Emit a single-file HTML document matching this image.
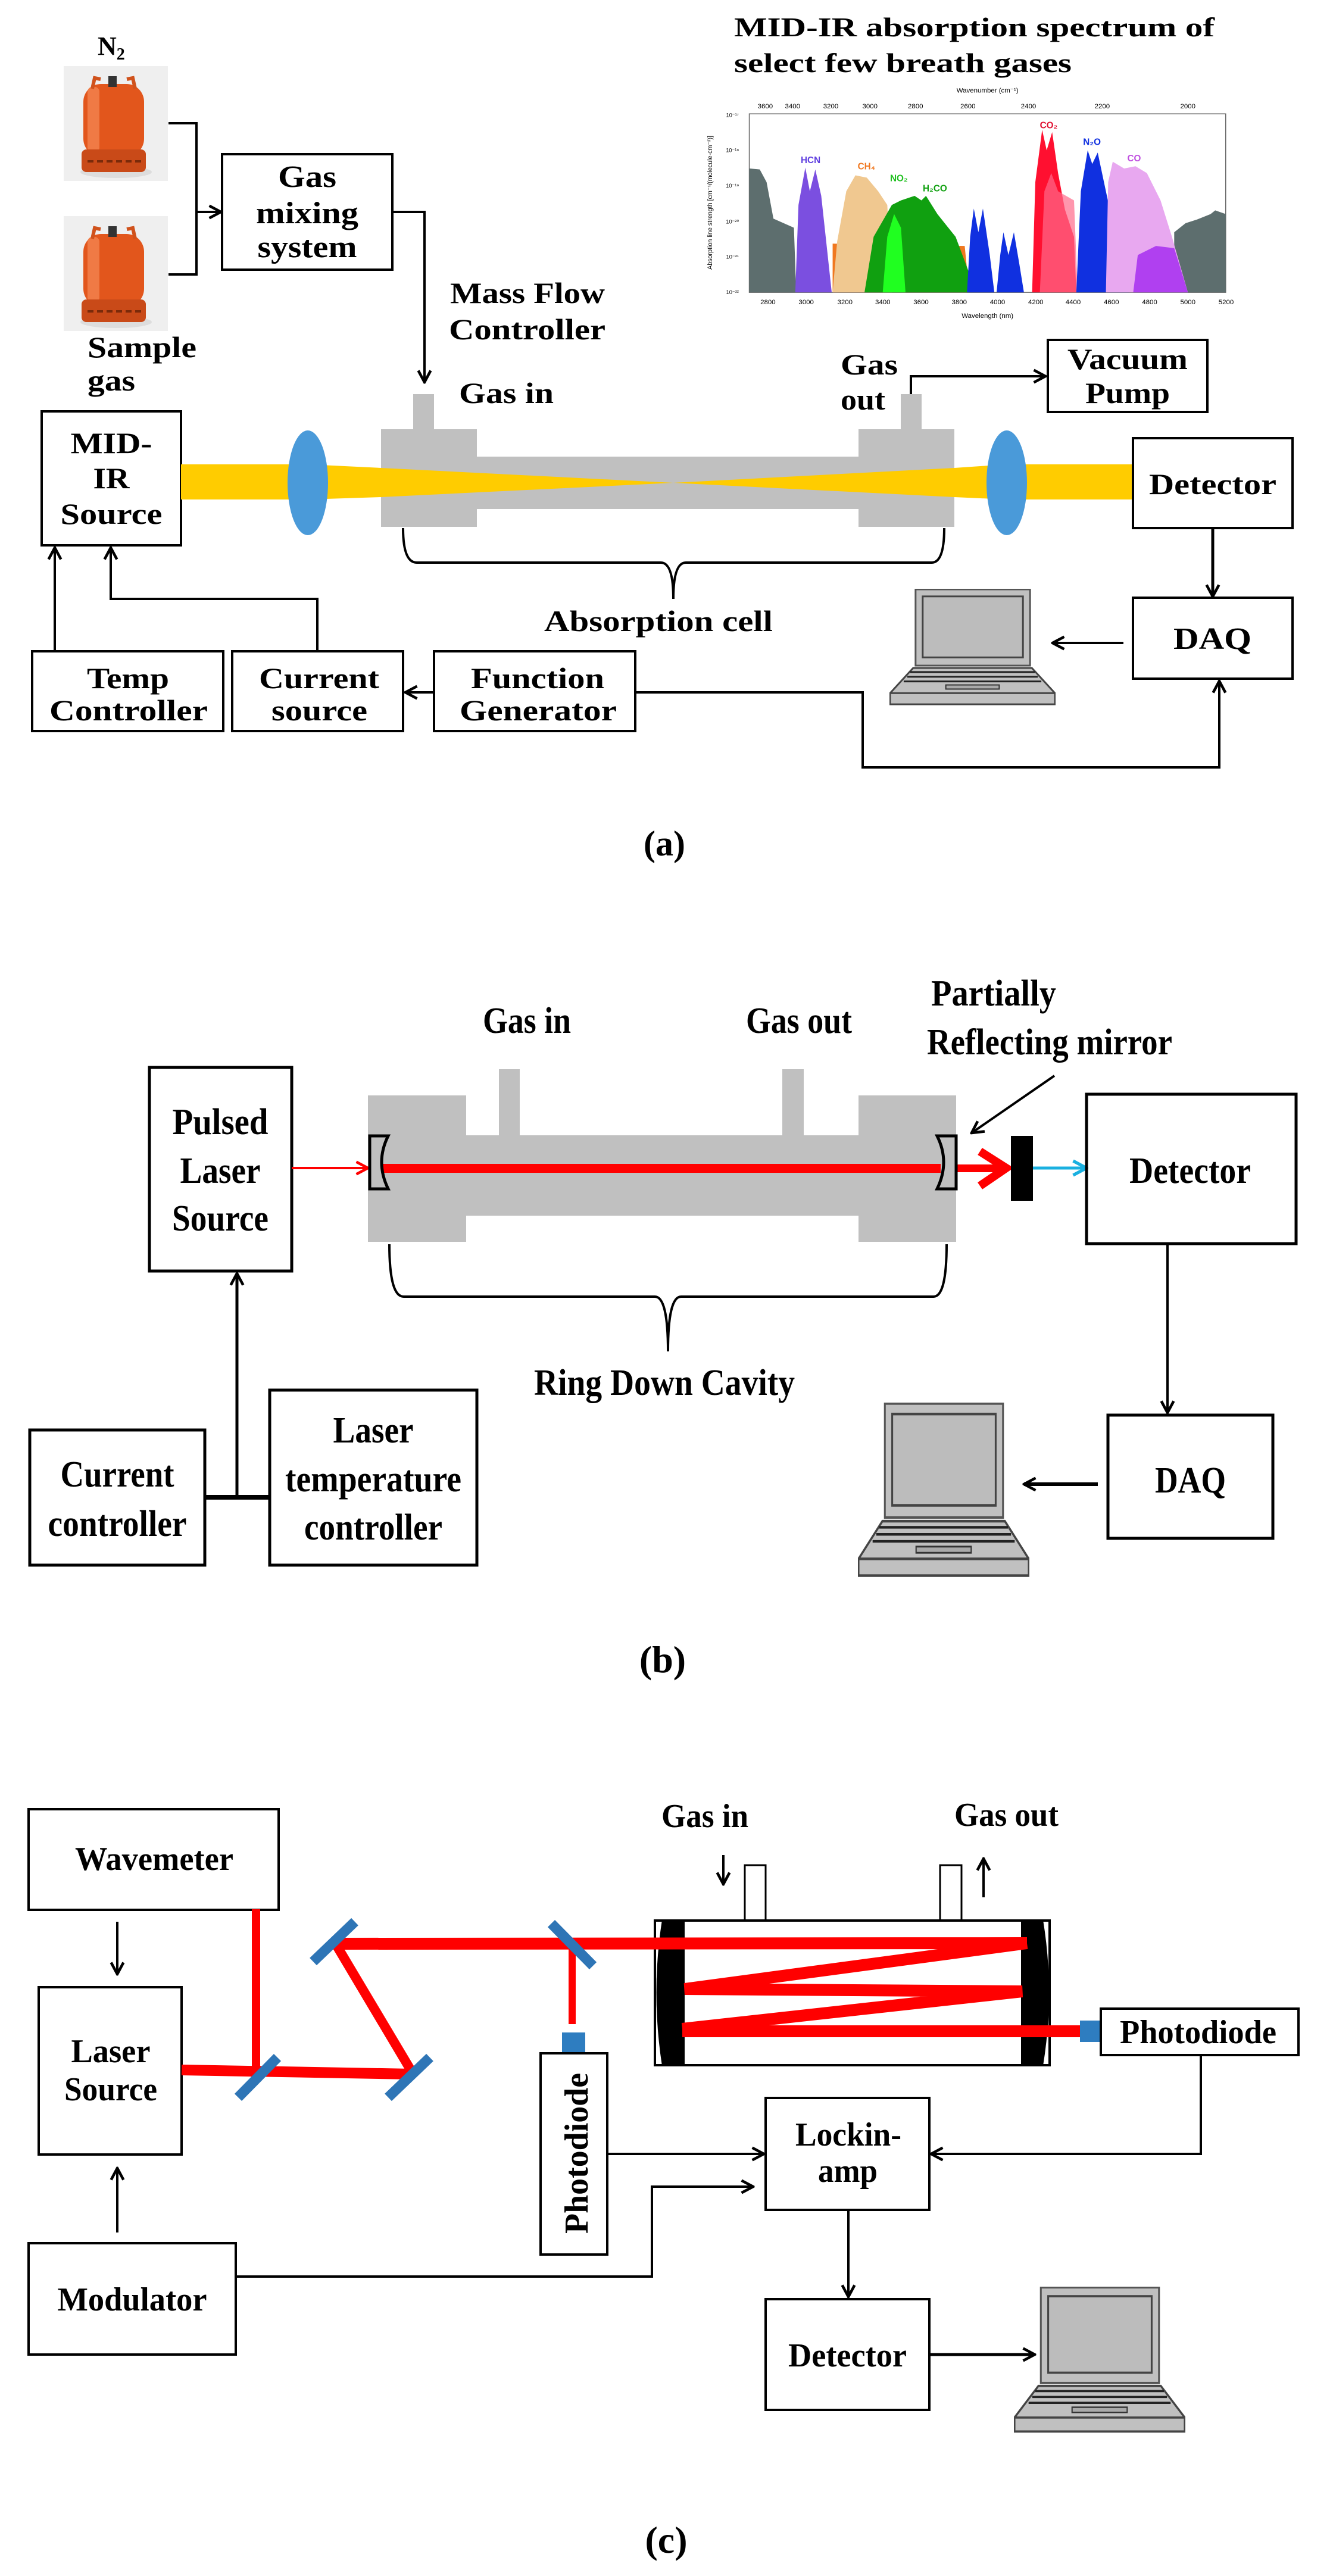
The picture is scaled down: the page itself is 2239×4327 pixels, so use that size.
<!DOCTYPE html>
<html><head><meta charset="utf-8"><style>
html,body{margin:0;padding:0;background:#fff}
svg{display:block}
text{font-family:"Liberation Serif",serif;font-weight:bold;fill:#000}
</style></head><body>
<svg width="2239" height="4327" viewBox="0 0 2239 4327" xmlns="http://www.w3.org/2000/svg">
<defs>
<marker id="ar" viewBox="0 0 20 20" refX="18" refY="10" markerWidth="26" markerHeight="26" markerUnits="userSpaceOnUse" orient="auto">
<path d="M3,2 L18,10 L3,18" fill="none" stroke="#000" stroke-width="3.5"/></marker>
<marker id="arr" viewBox="0 0 20 20" refX="18" refY="10" markerWidth="26" markerHeight="26" markerUnits="userSpaceOnUse" orient="auto">
<path d="M3,2 L18,10 L3,18" fill="none" stroke="#f00" stroke-width="3.5"/></marker>
<marker id="arc" viewBox="0 0 20 20" refX="18" refY="10" markerWidth="30" markerHeight="30" markerUnits="userSpaceOnUse" orient="auto">
<path d="M3,2 L18,10 L3,18" fill="none" stroke="#1ab0e0" stroke-width="3.5"/></marker>
<symbol id="lap" viewBox="0 0 280 200" preserveAspectRatio="none">
<rect x="44" y="1" width="193" height="130" fill="#c0c0c0" stroke="#555" stroke-width="3"/>
<rect x="56" y="13" width="169" height="104" fill="#bcbcbc" stroke="#444" stroke-width="3"/>
<path d="M40,135 L240,135 L279,178 L1,178 Z" fill="#c0c0c0" stroke="#444" stroke-width="3"/>
<path d="M35,142 H245 M30,150 H250 M24,158 H256" stroke="#222" stroke-width="3"/>
<rect x="95" y="164" width="90" height="7" fill="#aaa" stroke="#333" stroke-width="2"/>
<rect x="1" y="178" width="278" height="19" fill="#c0c0c0" stroke="#444" stroke-width="3"/>
</symbol>
<symbol id="cyl" viewBox="0 0 175 193" preserveAspectRatio="none">
<rect x="0" y="0" width="175" height="193" fill="#efefef"/>
<ellipse cx="88" cy="178" rx="60" ry="10" fill="#ddd"/>
<rect x="33" y="30" width="102" height="122" rx="30" fill="#e2561c"/>
<rect x="40" y="35" width="20" height="110" rx="8" fill="#f07a45"/>
<rect x="30" y="140" width="108" height="38" rx="8" fill="#c94a18"/>
<rect x="75" y="17" width="14" height="18" fill="#333"/>
<path d="M48,38 L52,20 L62,22 M120,38 L116,20 L106,22" fill="none" stroke="#d0521c" stroke-width="6"/>
<path d="M40,160 H130" stroke="#7a2a0a" stroke-width="4" stroke-dasharray="10 6"/>
</symbol>
</defs>

<!-- ================= PANEL A ================= -->
<text x="164" y="92" font-size="44">N<tspan font-size="28" dy="8">2</tspan></text>
<use href="#cyl" x="107" y="111" width="175" height="193"/>
<use href="#cyl" x="107" y="363" width="175" height="193"/>
<path d="M283,207 H330 V461 H283" fill="none" stroke="#000" stroke-width="4"/>
<path d="M330,356 H371" fill="none" stroke="#000" stroke-width="4" marker-end="url(#ar)"/>
<rect x="373" y="259" width="286" height="194" fill="none" stroke="#000" stroke-width="4"/>
<text x="516" y="314" font-size="52" text-anchor="middle" textLength="98" lengthAdjust="spacingAndGlyphs">Gas</text>
<text x="516" y="375" font-size="52" text-anchor="middle" textLength="172" lengthAdjust="spacingAndGlyphs">mixing</text>
<text x="516" y="432" font-size="52" text-anchor="middle" textLength="167" lengthAdjust="spacingAndGlyphs">system</text>
<path d="M659,356 H713 V642" fill="none" stroke="#000" stroke-width="4" marker-end="url(#ar)"/>
<text x="756" y="509" font-size="50" textLength="260" lengthAdjust="spacingAndGlyphs">Mass Flow</text>
<text x="754" y="570" font-size="50" textLength="263" lengthAdjust="spacingAndGlyphs">Controller</text>
<text x="147" y="600" font-size="50" textLength="183" lengthAdjust="spacingAndGlyphs">Sample</text>
<text x="147" y="656" font-size="50" textLength="80" lengthAdjust="spacingAndGlyphs">gas</text>
<text x="771" y="677" font-size="50" textLength="159" lengthAdjust="spacingAndGlyphs">Gas in</text>

<!-- title & spectrum -->
<text x="1233" y="61" font-size="46" textLength="807" lengthAdjust="spacingAndGlyphs">MID-IR absorption spectrum of</text>
<text x="1233" y="121" font-size="46" textLength="567" lengthAdjust="spacingAndGlyphs">select few breath gases</text>
<g transform="translate(1039,0) scale(0.765)">
<rect x="287" y="250" width="1046" height="392" fill="#fff" stroke="#666" stroke-width="2"/>
<path d="M287,642 L287,370 L310,372 L325,400 L340,480 L385,500 L390,642 Z" fill="#5d6e6e"/>
<path d="M1220,642 L1220,510 L1245,490 L1270,482 L1300,470 L1310,462 L1333,470 L1333,642 Z" fill="#5d6e6e"/>
<path d="M470,642 L470,535 L760,540 L770,642 Z" fill="#f07820"/>
<path d="M470,642 L480,530 L500,420 L520,385 L545,390 L570,420 L590,450 L600,642 Z" fill="#f0c890"/>
<path d="M388,642 L395,450 L410,368 L420,420 L432,372 L445,430 L468,642 Z" fill="#7b4fe0"/>
<path d="M540,642 L560,520 L600,450 L620,440 L650,430 L665,440 L675,430 L700,470 L740,520 L770,600 L770,642 Z" fill="#10a010"/>
<path d="M580,642 L590,520 L605,470 L620,500 L630,642 Z" fill="#20ff20"/>
<path d="M765,642 L772,520 L780,458 L790,510 L800,458 L815,560 L825,642 Z M830,642 L838,560 L845,510 L856,560 L868,510 L880,580 L890,642 Z" fill="#1030e0"/>
<path d="M908,642 L915,400 L930,285 L940,330 L952,290 L965,380 L980,460 L1000,520 L1005,642 Z" fill="#ff1030"/>
<path d="M925,642 L935,420 L950,380 L965,420 L1000,440 L1008,642 Z" fill="#ff6a8a" opacity="0.7"/>
<path d="M1005,642 L1015,420 L1030,330 L1040,360 L1052,335 L1070,420 L1100,560 L1120,642 Z" fill="#1030e0"/>
<path d="M1070,642 L1075,400 L1085,355 L1110,370 L1135,365 L1160,380 L1190,440 L1215,520 L1250,642 Z" fill="#e8a8f0"/>
<path d="M1130,642 L1140,560 L1180,540 L1220,545 L1250,642 Z" fill="#b040f0"/>
<g font-family="Liberation Sans,sans-serif" font-weight="bold" font-size="20">
<text x="400" y="358" style="fill:#6040e0;font-family:'Liberation Sans',sans-serif">HCN</text>
<text x="525" y="372" style="fill:#f07820;font-family:'Liberation Sans',sans-serif">CH₄</text>
<text x="596" y="398" style="fill:#20c020;font-family:'Liberation Sans',sans-serif">NO₂</text>
<text x="668" y="420" style="fill:#10a010;font-family:'Liberation Sans',sans-serif">H₂CO</text>
<text x="925" y="282" style="fill:#e01030;font-family:'Liberation Sans',sans-serif">CO₂</text>
<text x="1020" y="318" style="fill:#1030e0;font-family:'Liberation Sans',sans-serif">N₂O</text>
<text x="1117" y="354" style="fill:#c050e0;font-family:'Liberation Sans',sans-serif">CO</text>
</g>
<g style="font-family:'Liberation Sans',sans-serif;font-weight:normal" font-size="15" text-anchor="middle">
<text x="328" y="668" style="font-weight:normal;font-family:'Liberation Sans',sans-serif">2800</text><text x="412" y="668" style="font-weight:normal;font-family:'Liberation Sans',sans-serif">3000</text><text x="497" y="668" style="font-weight:normal;font-family:'Liberation Sans',sans-serif">3200</text><text x="580" y="668" style="font-weight:normal;font-family:'Liberation Sans',sans-serif">3400</text><text x="664" y="668" style="font-weight:normal;font-family:'Liberation Sans',sans-serif">3600</text><text x="748" y="668" style="font-weight:normal;font-family:'Liberation Sans',sans-serif">3800</text><text x="832" y="668" style="font-weight:normal;font-family:'Liberation Sans',sans-serif">4000</text><text x="916" y="668" style="font-weight:normal;font-family:'Liberation Sans',sans-serif">4200</text><text x="998" y="668" style="font-weight:normal;font-family:'Liberation Sans',sans-serif">4400</text><text x="1082" y="668" style="font-weight:normal;font-family:'Liberation Sans',sans-serif">4600</text><text x="1166" y="668" style="font-weight:normal;font-family:'Liberation Sans',sans-serif">4800</text><text x="1250" y="668" style="font-weight:normal;font-family:'Liberation Sans',sans-serif">5000</text><text x="1334" y="668" style="font-weight:normal;font-family:'Liberation Sans',sans-serif">5200</text>
<text x="322" y="238" style="font-weight:normal;font-family:'Liberation Sans',sans-serif">3600</text><text x="382" y="238" style="font-weight:normal;font-family:'Liberation Sans',sans-serif">3400</text><text x="466" y="238" style="font-weight:normal;font-family:'Liberation Sans',sans-serif">3200</text><text x="552" y="238" style="font-weight:normal;font-family:'Liberation Sans',sans-serif">3000</text><text x="652" y="238" style="font-weight:normal;font-family:'Liberation Sans',sans-serif">2800</text><text x="767" y="238" style="font-weight:normal;font-family:'Liberation Sans',sans-serif">2600</text><text x="900" y="238" style="font-weight:normal;font-family:'Liberation Sans',sans-serif">2400</text><text x="1062" y="238" style="font-weight:normal;font-family:'Liberation Sans',sans-serif">2200</text><text x="1250" y="238" style="font-weight:normal;font-family:'Liberation Sans',sans-serif">2000</text>
<text x="810" y="203" style="font-weight:normal;font-family:'Liberation Sans',sans-serif">Wavenumber (cm⁻¹)</text>
<text x="810" y="698" style="font-weight:normal;font-family:'Liberation Sans',sans-serif">Wavelength (nm)</text>
<text x="250" y="257" style="font-weight:normal;font-family:'Liberation Sans',sans-serif" font-size="12">10⁻¹⁷</text><text x="250" y="334" style="font-weight:normal;font-family:'Liberation Sans',sans-serif" font-size="12">10⁻¹⁸</text><text x="250" y="412" style="font-weight:normal;font-family:'Liberation Sans',sans-serif" font-size="12">10⁻¹⁹</text><text x="250" y="491" style="font-weight:normal;font-family:'Liberation Sans',sans-serif" font-size="12">10⁻²⁰</text><text x="250" y="568" style="font-weight:normal;font-family:'Liberation Sans',sans-serif" font-size="12">10⁻²¹</text><text x="250" y="646" style="font-weight:normal;font-family:'Liberation Sans',sans-serif" font-size="12">10⁻²²</text>
<text transform="translate(205,445) rotate(-90)" style="font-weight:normal;font-family:'Liberation Sans',sans-serif" font-size="14">Absorption line strength [cm⁻¹/(molecule·cm⁻²)]</text>
</g>
</g>

<!-- cell a -->
<text x="1412" y="629" font-size="50" textLength="96" lengthAdjust="spacingAndGlyphs">Gas</text>
<text x="1412" y="688" font-size="50" textLength="75" lengthAdjust="spacingAndGlyphs">out</text>
<path d="M1530,662 V632 H1756" fill="none" stroke="#000" stroke-width="4" marker-end="url(#ar)"/>
<rect x="1760" y="571" width="268" height="121" fill="none" stroke="#000" stroke-width="4"/>
<text x="1793" y="620" font-size="50" textLength="202" lengthAdjust="spacingAndGlyphs">Vacuum</text>
<text x="1823" y="677" font-size="50" textLength="142" lengthAdjust="spacingAndGlyphs">Pump</text>
<rect x="70" y="691" width="234" height="225" fill="none" stroke="#000" stroke-width="4"/>
<text x="187" y="761" font-size="50" text-anchor="middle" textLength="137" lengthAdjust="spacingAndGlyphs">MID-</text>
<text x="187" y="820" font-size="50" text-anchor="middle" textLength="61" lengthAdjust="spacingAndGlyphs">IR</text>
<text x="187" y="880" font-size="50" text-anchor="middle" textLength="171" lengthAdjust="spacingAndGlyphs">Source</text>
<g fill="#c0c0c0">
<rect x="640" y="721" width="161" height="164"/><rect x="694" y="662" width="35" height="60"/>
<rect x="800" y="767" width="643" height="88"/>
<rect x="1442" y="721" width="161" height="164"/><rect x="1513" y="662" width="35" height="60"/>
</g>
<g fill="#ffcc00">
<rect x="304" y="780" width="215" height="59"/>
<polygon points="517,780 640,786 1131,811 640,835 517,839"/>
<polygon points="1131,811 1603,786 1691,780 1691,839 1603,835"/>
<rect x="1689" y="780" width="214" height="59"/>
</g>
<ellipse cx="517" cy="811" rx="34" ry="88" fill="#4a9ad9"/>
<ellipse cx="1691" cy="811" rx="34" ry="88" fill="#4a9ad9"/>
<rect x="1903" y="736" width="268" height="151" fill="#fff" stroke="#000" stroke-width="4"/>
<text x="1930" y="830" font-size="50" textLength="214" lengthAdjust="spacingAndGlyphs">Detector</text>
<path d="M2037,887 V1002" fill="none" stroke="#000" stroke-width="5" marker-end="url(#ar)"/>
<rect x="1903" y="1004" width="268" height="136" fill="none" stroke="#000" stroke-width="4"/>
<text x="1971" y="1090" font-size="52" textLength="131" lengthAdjust="spacingAndGlyphs">DAQ</text>
<use href="#lap" x="1494" y="989" width="279" height="197"/>
<path d="M1887,1080 H1768" fill="none" stroke="#000" stroke-width="4" marker-end="url(#ar)"/>
<path d="M677,887 Q677,945 700,945 L1110,945 Q1131,945 1131,1006 Q1131,945 1152,945 L1565,945 Q1586,945 1586,887" fill="none" stroke="#000" stroke-width="4"/>
<text x="914" y="1060" font-size="50" textLength="384" lengthAdjust="spacingAndGlyphs">Absorption cell</text>
<rect x="54" y="1094" width="321" height="134" fill="none" stroke="#000" stroke-width="4"/>
<rect x="390" y="1094" width="287" height="134" fill="none" stroke="#000" stroke-width="4"/>
<rect x="729" y="1094" width="338" height="134" fill="none" stroke="#000" stroke-width="4"/>
<text x="146" y="1156" font-size="50" textLength="138" lengthAdjust="spacingAndGlyphs">Temp</text>
<text x="83" y="1210" font-size="50" textLength="266" lengthAdjust="spacingAndGlyphs">Controller</text>
<text x="435" y="1156" font-size="50" textLength="202" lengthAdjust="spacingAndGlyphs">Current</text>
<text x="456" y="1210" font-size="50" textLength="161" lengthAdjust="spacingAndGlyphs">source</text>
<text x="791" y="1156" font-size="50" textLength="224" lengthAdjust="spacingAndGlyphs">Function</text>
<text x="772" y="1210" font-size="50" textLength="264" lengthAdjust="spacingAndGlyphs">Generator</text>
<path d="M92,1094 V920" fill="none" stroke="#000" stroke-width="4" marker-end="url(#ar)"/>
<path d="M533,1094 V1006 H186 V920" fill="none" stroke="#000" stroke-width="4" marker-end="url(#ar)"/>
<path d="M729,1163 H681" fill="none" stroke="#000" stroke-width="4" marker-end="url(#ar)"/>
<path d="M1067,1163 H1449 V1289 H2048 V1144" fill="none" stroke="#000" stroke-width="4" marker-end="url(#ar)"/>
<text x="1116" y="1437" font-size="60" text-anchor="middle">(a)</text>

<!-- ================= PANEL B ================= -->
<text x="811" y="1735" font-size="62" textLength="148" lengthAdjust="spacingAndGlyphs">Gas in</text>
<text x="1253" y="1735" font-size="62" textLength="178" lengthAdjust="spacingAndGlyphs">Gas out</text>
<text x="1564" y="1689" font-size="62" textLength="210" lengthAdjust="spacingAndGlyphs">Partially</text>
<text x="1557" y="1771" font-size="62" textLength="412" lengthAdjust="spacingAndGlyphs">Reflecting mirror</text>
<rect x="251" y="1793" width="239" height="342" fill="none" stroke="#000" stroke-width="5"/>
<text x="370" y="1905" font-size="62" text-anchor="middle" textLength="161" lengthAdjust="spacingAndGlyphs">Pulsed</text>
<text x="370" y="1987" font-size="62" text-anchor="middle" textLength="135" lengthAdjust="spacingAndGlyphs">Laser</text>
<text x="370" y="2067" font-size="62" text-anchor="middle" textLength="162" lengthAdjust="spacingAndGlyphs">Source</text>
<g fill="#c0c0c0">
<rect x="618" y="1840" width="165" height="246"/><rect x="838" y="1796" width="35" height="112"/>
<rect x="782" y="1907" width="662" height="135"/>
<rect x="1442" y="1840" width="164" height="246"/><rect x="1314" y="1796" width="36" height="112"/>
</g>
<path d="M490,1962 H618" fill="none" stroke="#f00" stroke-width="4" marker-end="url(#arr)"/>
<rect x="640" y="1955" width="940" height="15" fill="#f00"/>
<rect x="1600" y="1956" width="80" height="13" fill="#f00"/>
<path d="M1646,1934 L1690,1962 L1646,1992" fill="none" stroke="#f00" stroke-width="14"/>
<path d="M621,1908 L652,1908 Q630,1952 652,1997 L621,1997 Z" fill="#c0c0c0" stroke="#000" stroke-width="5"/>
<path d="M1606,1908 L1574,1908 Q1596,1952 1574,1997 L1606,1997 Z" fill="#c0c0c0" stroke="#000" stroke-width="5"/>
<rect x="1698" y="1908" width="37" height="109" fill="#000"/>
<path d="M1735,1962 H1825" fill="none" stroke="#1ab0e0" stroke-width="5" marker-end="url(#arc)"/>
<path d="M1771,1807 L1632,1903" fill="none" stroke="#000" stroke-width="4" marker-end="url(#ar)"/>
<rect x="1825" y="1838" width="352" height="251" fill="none" stroke="#000" stroke-width="5"/>
<text x="1897" y="1987" font-size="62" textLength="204" lengthAdjust="spacingAndGlyphs">Detector</text>
<path d="M1961,2089 V2373" fill="none" stroke="#000" stroke-width="4" marker-end="url(#ar)"/>
<rect x="1861" y="2377" width="277" height="207" fill="none" stroke="#000" stroke-width="5"/>
<text x="1940" y="2507" font-size="62" textLength="119" lengthAdjust="spacingAndGlyphs">DAQ</text>
<use href="#lap" x="1441" y="2356" width="288" height="295"/>
<path d="M1844,2493 H1720" fill="none" stroke="#000" stroke-width="6" marker-end="url(#ar)"/>
<path d="M654,2090 Q654,2178 678,2178 L1100,2178 Q1122,2178 1122,2270 Q1122,2178 1144,2178 L1568,2178 Q1590,2178 1590,2090" fill="none" stroke="#000" stroke-width="4"/>
<text x="897" y="2343" font-size="62" textLength="438" lengthAdjust="spacingAndGlyphs">Ring Down Cavity</text>
<rect x="50" y="2402" width="294" height="227" fill="none" stroke="#000" stroke-width="5"/>
<rect x="453" y="2335" width="348" height="294" fill="none" stroke="#000" stroke-width="5"/>
<text x="197" y="2497" font-size="62" text-anchor="middle" textLength="191" lengthAdjust="spacingAndGlyphs">Current</text>
<text x="197" y="2580" font-size="62" text-anchor="middle" textLength="233" lengthAdjust="spacingAndGlyphs">controller</text>
<text x="627" y="2423" font-size="62" text-anchor="middle" textLength="135" lengthAdjust="spacingAndGlyphs">Laser</text>
<text x="627" y="2505" font-size="62" text-anchor="middle" textLength="296" lengthAdjust="spacingAndGlyphs">temperature</text>
<text x="627" y="2586" font-size="62" text-anchor="middle" textLength="232" lengthAdjust="spacingAndGlyphs">controller</text>
<path d="M344,2515 H453" stroke="#000" stroke-width="8"/>
<path d="M398,2515 V2139" fill="none" stroke="#000" stroke-width="5" marker-end="url(#ar)"/>
<text x="1113" y="2809" font-size="64" text-anchor="middle">(b)</text>

<!-- ================= PANEL C ================= -->
<rect x="48" y="3039" width="420" height="169" fill="none" stroke="#000" stroke-width="4"/>
<text x="259" y="3141" font-size="56" text-anchor="middle" textLength="266" lengthAdjust="spacingAndGlyphs">Wavemeter</text>
<path d="M197,3228 V3316" fill="none" stroke="#000" stroke-width="4" marker-end="url(#ar)"/>
<rect x="65" y="3338" width="240" height="281" fill="none" stroke="#000" stroke-width="4"/>
<text x="186" y="3464" font-size="56" text-anchor="middle" textLength="133" lengthAdjust="spacingAndGlyphs">Laser</text>
<text x="186" y="3528" font-size="56" text-anchor="middle" textLength="156" lengthAdjust="spacingAndGlyphs">Source</text>
<path d="M197,3750 V3642" fill="none" stroke="#000" stroke-width="4" marker-end="url(#ar)"/>
<rect x="48" y="3768" width="348" height="187" fill="none" stroke="#000" stroke-width="4"/>
<text x="222" y="3881" font-size="56" text-anchor="middle" textLength="251" lengthAdjust="spacingAndGlyphs">Modulator</text>
<path d="M396,3824 H1095 V3673 H1265" fill="none" stroke="#000" stroke-width="4" marker-end="url(#ar)"/>
<!-- cell -->
<rect x="1251" y="3133" width="35" height="94" fill="#fff" stroke="#000" stroke-width="3"/>
<rect x="1579" y="3133" width="36" height="94" fill="#fff" stroke="#000" stroke-width="3"/>
<rect x="1100" y="3226" width="663" height="243" fill="#fff" stroke="#000" stroke-width="4"/>
<path d="M1150,3225 L1112,3225 Q1093,3347 1112,3470 L1150,3470 Z" fill="#000"/>
<path d="M1715,3225 L1752,3225 Q1772,3347 1752,3470 L1715,3470 Z" fill="#000"/>
<text x="1111" y="3069" font-size="56" textLength="146" lengthAdjust="spacingAndGlyphs">Gas in</text>
<text x="1603" y="3067" font-size="56" textLength="175" lengthAdjust="spacingAndGlyphs">Gas out</text>
<path d="M1215,3116 V3165" fill="none" stroke="#000" stroke-width="4" marker-end="url(#ar)"/>
<path d="M1652,3187 V3122" fill="none" stroke="#000" stroke-width="4" marker-end="url(#ar)"/>
<!-- beams -->
<g stroke="#f00" fill="none" stroke-linecap="butt">
<path d="M430,3478 V3207" stroke-width="14"/>
<path d="M961,3264 V3400" stroke-width="12"/>
<path d="M305,3477 L694,3484" stroke-width="18"/>
<path d="M694,3484 L563,3264" stroke-width="16"/>
<path d="M563,3265 L1725,3264" stroke-width="20"/>
<path d="M1725,3264 L1150,3341 L1717,3345 L1146,3408" stroke-width="20" stroke-linejoin="miter"/>
<path d="M1146,3412 H1818" stroke-width="20"/>
</g>
<g stroke="#2e75b6" stroke-width="17" fill="none">
<path d="M400,3523 L466,3456"/>
<path d="M652,3523 L722,3456"/>
<path d="M526,3295 L596,3228"/>
<path d="M926,3231 L996,3302"/>
</g>
<rect x="944" y="3414" width="39" height="37" fill="#2e7dc0"/>
<rect x="908" y="3449" width="112" height="338" fill="#fff" stroke="#000" stroke-width="4"/>
<text transform="translate(987,3752) rotate(-90)" font-size="56" textLength="270" lengthAdjust="spacingAndGlyphs">Photodiode</text>
<rect x="1814" y="3394" width="38" height="36" fill="#2e7dc0"/>
<rect x="1849" y="3374" width="332" height="78" fill="#fff" stroke="#000" stroke-width="4"/>
<text x="1881" y="3432" font-size="56" textLength="263" lengthAdjust="spacingAndGlyphs">Photodiode</text>
<rect x="1286" y="3524" width="275" height="188" fill="none" stroke="#000" stroke-width="4"/>
<text x="1336" y="3604" font-size="56" textLength="178" lengthAdjust="spacingAndGlyphs">Lockin-</text>
<text x="1374" y="3665" font-size="56" textLength="100" lengthAdjust="spacingAndGlyphs">amp</text>
<path d="M1020,3618 H1283" fill="none" stroke="#000" stroke-width="4" marker-end="url(#ar)"/>
<path d="M2017,3452 V3618 H1564" fill="none" stroke="#000" stroke-width="4" marker-end="url(#ar)"/>
<path d="M1425,3712 V3858" fill="none" stroke="#000" stroke-width="4" marker-end="url(#ar)"/>
<rect x="1286" y="3862" width="275" height="186" fill="none" stroke="#000" stroke-width="4"/>
<text x="1324" y="3975" font-size="56" textLength="199" lengthAdjust="spacingAndGlyphs">Detector</text>
<path d="M1561,3955 H1738" fill="none" stroke="#000" stroke-width="5" marker-end="url(#ar)"/>
<use href="#lap" x="1703" y="3841" width="288" height="247"/>
<text x="1119" y="4288" font-size="64" text-anchor="middle">(c)</text>
</svg>
</body></html>
